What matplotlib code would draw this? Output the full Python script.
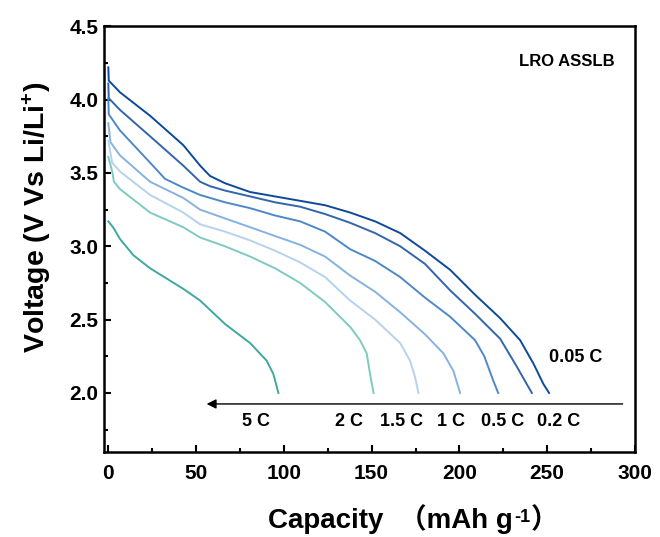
import matplotlib
matplotlib.use("Agg")
import matplotlib.pyplot as plt
from matplotlib.ticker import MultipleLocator

plt.rcParams['font.family'] = ['Liberation Sans', 'Noto Sans CJK SC', 'DejaVu Sans']
plt.rcParams['font.weight'] = 'bold'
plt.rcParams['mathtext.fontset'] = 'custom'
plt.rcParams['mathtext.rm'] = 'Liberation Sans:bold'
plt.rcParams['mathtext.bf'] = 'Liberation Sans:bold'
plt.rcParams['mathtext.it'] = 'Liberation Sans:bold'
plt.rcParams['mathtext.default'] = 'bf'

# ---- data (capacity mAh/g, voltage V) ----
cap_005 = [0, 0.25, 6.65, 23.8, 42.7, 52.3, 57.9, 66.5, 80.8, 95.0, 109.3, 123.5, 137.8,
           152.0, 166.3, 180.4, 194.7, 208.9, 223.2, 234.6, 242.2, 247.9, 251.1]
v_005 = [4.22, 4.13, 4.05, 3.89, 3.69, 3.55, 3.48, 3.43, 3.37, 3.34, 3.31, 3.28, 3.23,
         3.17, 3.09, 2.97, 2.84, 2.67, 2.51, 2.36, 2.20, 2.06, 2.00]

cap_02 = [0, 0.25, 6.65, 23.8, 42.7, 52.3, 57.9, 66.5, 80.8, 95.0, 109.3, 123.5, 137.8,
          152.0, 166.3, 180.4, 194.7, 208.9, 223.2, 232.7, 238.4, 241.3]
v_02 = [4.11, 4.01, 3.93, 3.75, 3.55, 3.44, 3.41, 3.38, 3.34, 3.30, 3.27, 3.22, 3.16,
        3.09, 3.00, 2.88, 2.70, 2.54, 2.37, 2.18, 2.06, 2.00]

cap_05 = [0, 0.25, 6.65, 23.8, 32.3, 42.7, 52.3, 66.5, 80.8, 95.0, 109.3, 123.5, 137.8,
          152.0, 166.3, 180.4, 194.7, 208.9, 214.2, 219.1, 222.1]
v_05 = [4.01, 3.90, 3.79, 3.57, 3.46, 3.40, 3.35, 3.30, 3.26, 3.21, 3.17, 3.10, 2.98,
        2.90, 2.79, 2.65, 2.52, 2.36, 2.25, 2.09, 2.00]

cap_1 = [0, 1.23, 6.65, 23.8, 42.7, 52.3, 66.5, 80.8, 95.0, 109.3, 123.5, 137.8,
         152.0, 166.3, 180.4, 190.9, 196.6, 198.9, 200.4]
v_1 = [3.84, 3.71, 3.62, 3.44, 3.33, 3.25, 3.19, 3.13, 3.07, 3.01, 2.93, 2.80,
       2.69, 2.55, 2.40, 2.27, 2.15, 2.06, 2.00]

cap_15 = [0, 2.2, 6.65, 23.8, 42.7, 52.3, 66.5, 80.8, 95.0, 109.3, 123.5, 137.8,
          152.0, 166.3, 171.9, 174.7, 176.7]
v_15 = [3.72, 3.57, 3.51, 3.35, 3.23, 3.15, 3.10, 3.04, 2.97, 2.89, 2.79, 2.63,
        2.50, 2.34, 2.22, 2.11, 2.00]

cap_2 = [0, 2.2, 3.2, 6.65, 23.8, 42.7, 52.3, 66.5, 80.8, 95.0, 109.3, 123.5, 137.8,
         143.4, 147.2, 149.1, 151.1]
v_2 = [3.61, 3.51, 3.44, 3.39, 3.23, 3.13, 3.06, 3.00, 2.93, 2.85, 2.75, 2.62, 2.45,
       2.36, 2.27, 2.13, 2.00]

cap_5 = [0, 2.7, 6.65, 14.2, 23.8, 42.7, 52.3, 66.5, 80.8, 90.2, 94.0, 96.9]
v_5 = [3.17, 3.13, 3.05, 2.94, 2.85, 2.71, 2.63, 2.47, 2.34, 2.22, 2.13, 2.00]

series = [
    (cap_005, v_005, '#0d4a9c'),
    (cap_02, v_02, '#3365ab'),
    (cap_05, v_05, '#4f88c9'),
    (cap_1, v_1, '#86b2e0'),
    (cap_15, v_15, '#b5d2ee'),
    (cap_2, v_2, '#7ecac2'),
    (cap_5, v_5, '#3ea8a3'),
]

rate_labels = ['5 C', '2 C', '1.5 C', '1 C', '0.5 C', '0.2 C']
rate_label_x = [84, 137, 167, 195.5, 224.5, 256.5]

fig = plt.figure(figsize=(6.6, 5.37), dpi=100)
ax = fig.add_axes([0.158, 0.159, 0.804, 0.792])

for x, y, c in series:
    ax.plot(x, y, color=c, lw=1.4)

ax.set_xlim(-2.3, 300)
ax.set_ylim(1.6, 4.5)
ax.xaxis.set_major_locator(MultipleLocator(50))
ax.xaxis.set_minor_locator(MultipleLocator(25))
ax.yaxis.set_minor_locator(MultipleLocator(0.25))
ax.set_yticks([2.0, 2.5, 3.0, 3.5, 4.0, 4.5])
ax.set_yticklabels(['2.0', '2.5', '3.0', '3.5', '4.0', '4.5'])
ax.tick_params(which='both', direction='in', top=False, right=False, width=1.5,
               labelsize=15)
ax.tick_params(axis='x', which='major', pad=9)
ax.tick_params(axis='y', which='major', pad=4)
ax.tick_params(which='major', length=5)
ax.tick_params(which='minor', length=3)
for lab in ax.get_xticklabels() + ax.get_yticklabels():
    lab.set_fontweight('bold')
for s in ax.spines.values():
    s.set_linewidth(1.8)

# x label composed of pieces: main text, superscript, closing paren
t1 = fig.text(268 / 660, 1 - 528 / 537, 'Capacity  \uff08mAh g', fontsize=20,
              fontweight='bold', ha='left', va='baseline')
t2 = ax.annotate('-1', xy=(1, 0), xycoords=t1, xytext=(1, 9), textcoords='offset points',
                 fontsize=13, fontweight='bold', ha='left', va='baseline',
                 annotation_clip=False)
t3 = ax.annotate('\uff09', xy=(1, 0), xycoords=(t2, t1), xytext=(0, 0),
                 textcoords='offset points', fontsize=20, fontweight='bold',
                 ha='left', va='bottom', annotation_clip=False)

fig.text(37 / 660, 1 - 217 / 537, r'Voltage (V Vs Li/Li$^{+}$)', fontsize=20.5,
         fontweight='bold', rotation=90, ha='center', va='center')

ax.text(261, 4.26, 'LRO ASSLB', fontsize=12, fontweight='bold', ha='center', va='center')
ax.text(266.5, 2.24, '0.05 C', fontsize=13, fontweight='bold', ha='center', va='center')
for lab, xp in zip(rate_labels, rate_label_x):
    ax.text(xp, 1.806, lab, fontsize=13, fontweight='bold', ha='center', va='center')

ax.annotate('', xy=(56, 1.925), xytext=(293, 1.925),
            arrowprops=dict(arrowstyle='-|>', lw=1.0, color='black', mutation_scale=14,
                            shrinkA=0, shrinkB=0))

fig.savefig('out.png', dpi=100)
